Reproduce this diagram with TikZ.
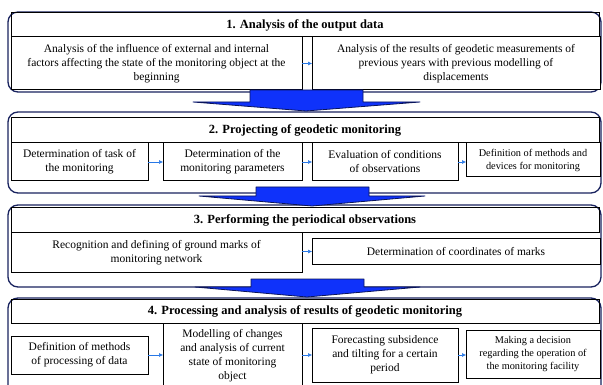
\documentclass[tikz,border=0pt]{standalone}
\usepackage{fontspec}
\setmainfont{Liberation Serif}
\usetikzlibrary{arrows.meta}
\definecolor{framecol}{RGB}{25,35,95}
\definecolor{smallblue}{RGB}{40,120,230}
\definecolor{bigblue}{RGB}{15,50,250}
\definecolor{bigedge}{RGB}{10,20,90}
\tikzset{
  frame/.style={draw=framecol, line width=1.3pt, rounded corners=10pt, fill=white, inner sep=0pt, outer sep=0pt},
  titlebox/.style={draw=black, line width=1pt, inner sep=0pt, outer sep=0pt, font=\fontsize{12.5}{14}\selectfont\bfseries, align=center},
  bx/.style={draw=black, line width=1pt, fill=white, inner sep=0pt, outer sep=0pt, align=center, font=\fontsize{11.5}{14}\selectfont},
  bxs/.style={bx, font=\fontsize{10.3}{13}\selectfont},
  smallarrow/.style={draw=smallblue, line width=0.5pt, -{Latex[length=4pt,width=4pt]}},
  bigarrow/.style={fill=bigblue, draw=bigedge, line width=0.8pt, line join=round}
}
\begin{document}
\begin{tikzpicture}[x=1pt,y=-1pt]
\useasboundingbox (0,0) rectangle (603,385);
\clip (0,0) rectangle (603,385);
% section frames
\node[frame, minimum width=593pt, minimum height=80pt] (f1) at (304.5,52) {};
\node[frame, minimum width=593pt, minimum height=81pt] (f2) at (304.5,152.5) {};
\node[frame, minimum width=593pt, minimum height=82pt] (f3) at (304.5,246) {};
\node[frame, minimum width=593pt, minimum height=104pt] (f4) at (304.5,350) {};
% section 1
\node[titlebox, minimum width=588pt, minimum height=24pt] (t1) at (305,25) {1. Analysis of the output data};
\node[bx, minimum width=291pt, minimum height=53pt] (a1) at (156.5,63.5) {Analysis of the influence of external and internal\\factors affecting the state of the monitoring object at the\\beginning};
\node[bx, minimum width=288pt, minimum height=53pt] (a2) at (456,63.5) {Analysis of the results of geodetic measurements of\\previous years with previous modelling of\\displacements};
% section 2
\node[titlebox, minimum width=588pt, minimum height=25pt] (t2) at (305,130.5) {2. Projecting of geodetic monitoring};
\node[bx, minimum width=137pt, minimum height=38pt] (b1) at (79.5,162) {Determination of task of\\the monitoring};
\node[bx, minimum width=139pt, minimum height=38pt] (b2) at (232.5,162) {Determination of the\\monitoring parameters};
\node[bx, minimum width=146pt, minimum height=38pt] (b3) at (385,162) {Evaluation of conditions\\of observations};
\node[bxs, minimum width=134pt, minimum height=34pt] (b4) at (533,160) {Definition of methods and\\devices for monitoring};
% section 3
\node[titlebox, minimum width=588pt, minimum height=25pt] (t3) at (305,220.5) {3. Performing the periodical observations};
\node[bx, minimum width=291pt, minimum height=39pt] (c1) at (156.5,252.5) {Recognition and defining of ground marks of\\monitoring network};
\node[bx, minimum width=288pt, minimum height=25pt] (c2) at (456,251.5) {Determination of coordinates of marks};
% section 4
\node[titlebox, minimum width=588pt, minimum height=24pt] (t4) at (305,311) {4. Processing and analysis of results of geodetic monitoring};
\node[bx, minimum width=137pt, minimum height=38pt] (d1) at (79.5,355) {Definition of methods\\of processing of data};
\node[bx, minimum width=139pt, minimum height=66pt] (d2) at (232.5,356) {Modelling of changes\\and analysis of current\\state of monitoring\\object};
\node[bx, minimum width=146pt, minimum height=54pt] (d3) at (385,355) {Forecasting subsidence\\and tilting for a certain\\period};
\node[bxs, minimum width=134pt, minimum height=48pt] (d4) at (533,354) {Making a decision\\regarding the operation of\\the monitoring facility};
% small arrows
\draw[smallarrow] (a1.east) -- (a1.east -| a2.west);
\draw[smallarrow] (b1.east) -- (b1.east -| b2.west);
\draw[smallarrow] (b2.east) -- (b2.east -| b3.west);
\draw[smallarrow] (b3.east) -- (b3.east -| b4.west);
\draw[smallarrow] (c2.west -| c1.east) -- (c2.west);
\draw[smallarrow] (d1.east) -- (d1.east -| d2.west);
\draw[smallarrow] (d2.east |- d3.west) -- (d3.west);
\draw[smallarrow] (d3.east) -- (d3.east -| d4.west);
% big arrows between sections
\draw[bigarrow] (250,90) -- (363,90) -- (363,102) -- (420,102) -- (306,111) -- (193,102) -- (250,102) -- cycle;
\draw[bigarrow] (256,187) -- (369,187) -- (369,196) -- (425,196) -- (312,206) -- (199,196) -- (256,196) -- cycle;
\draw[bigarrow] (251,279) -- (364,279) -- (364,287) -- (420,287) -- (307,297) -- (195,287) -- (251,287) -- cycle;
\end{tikzpicture}
\end{document}
